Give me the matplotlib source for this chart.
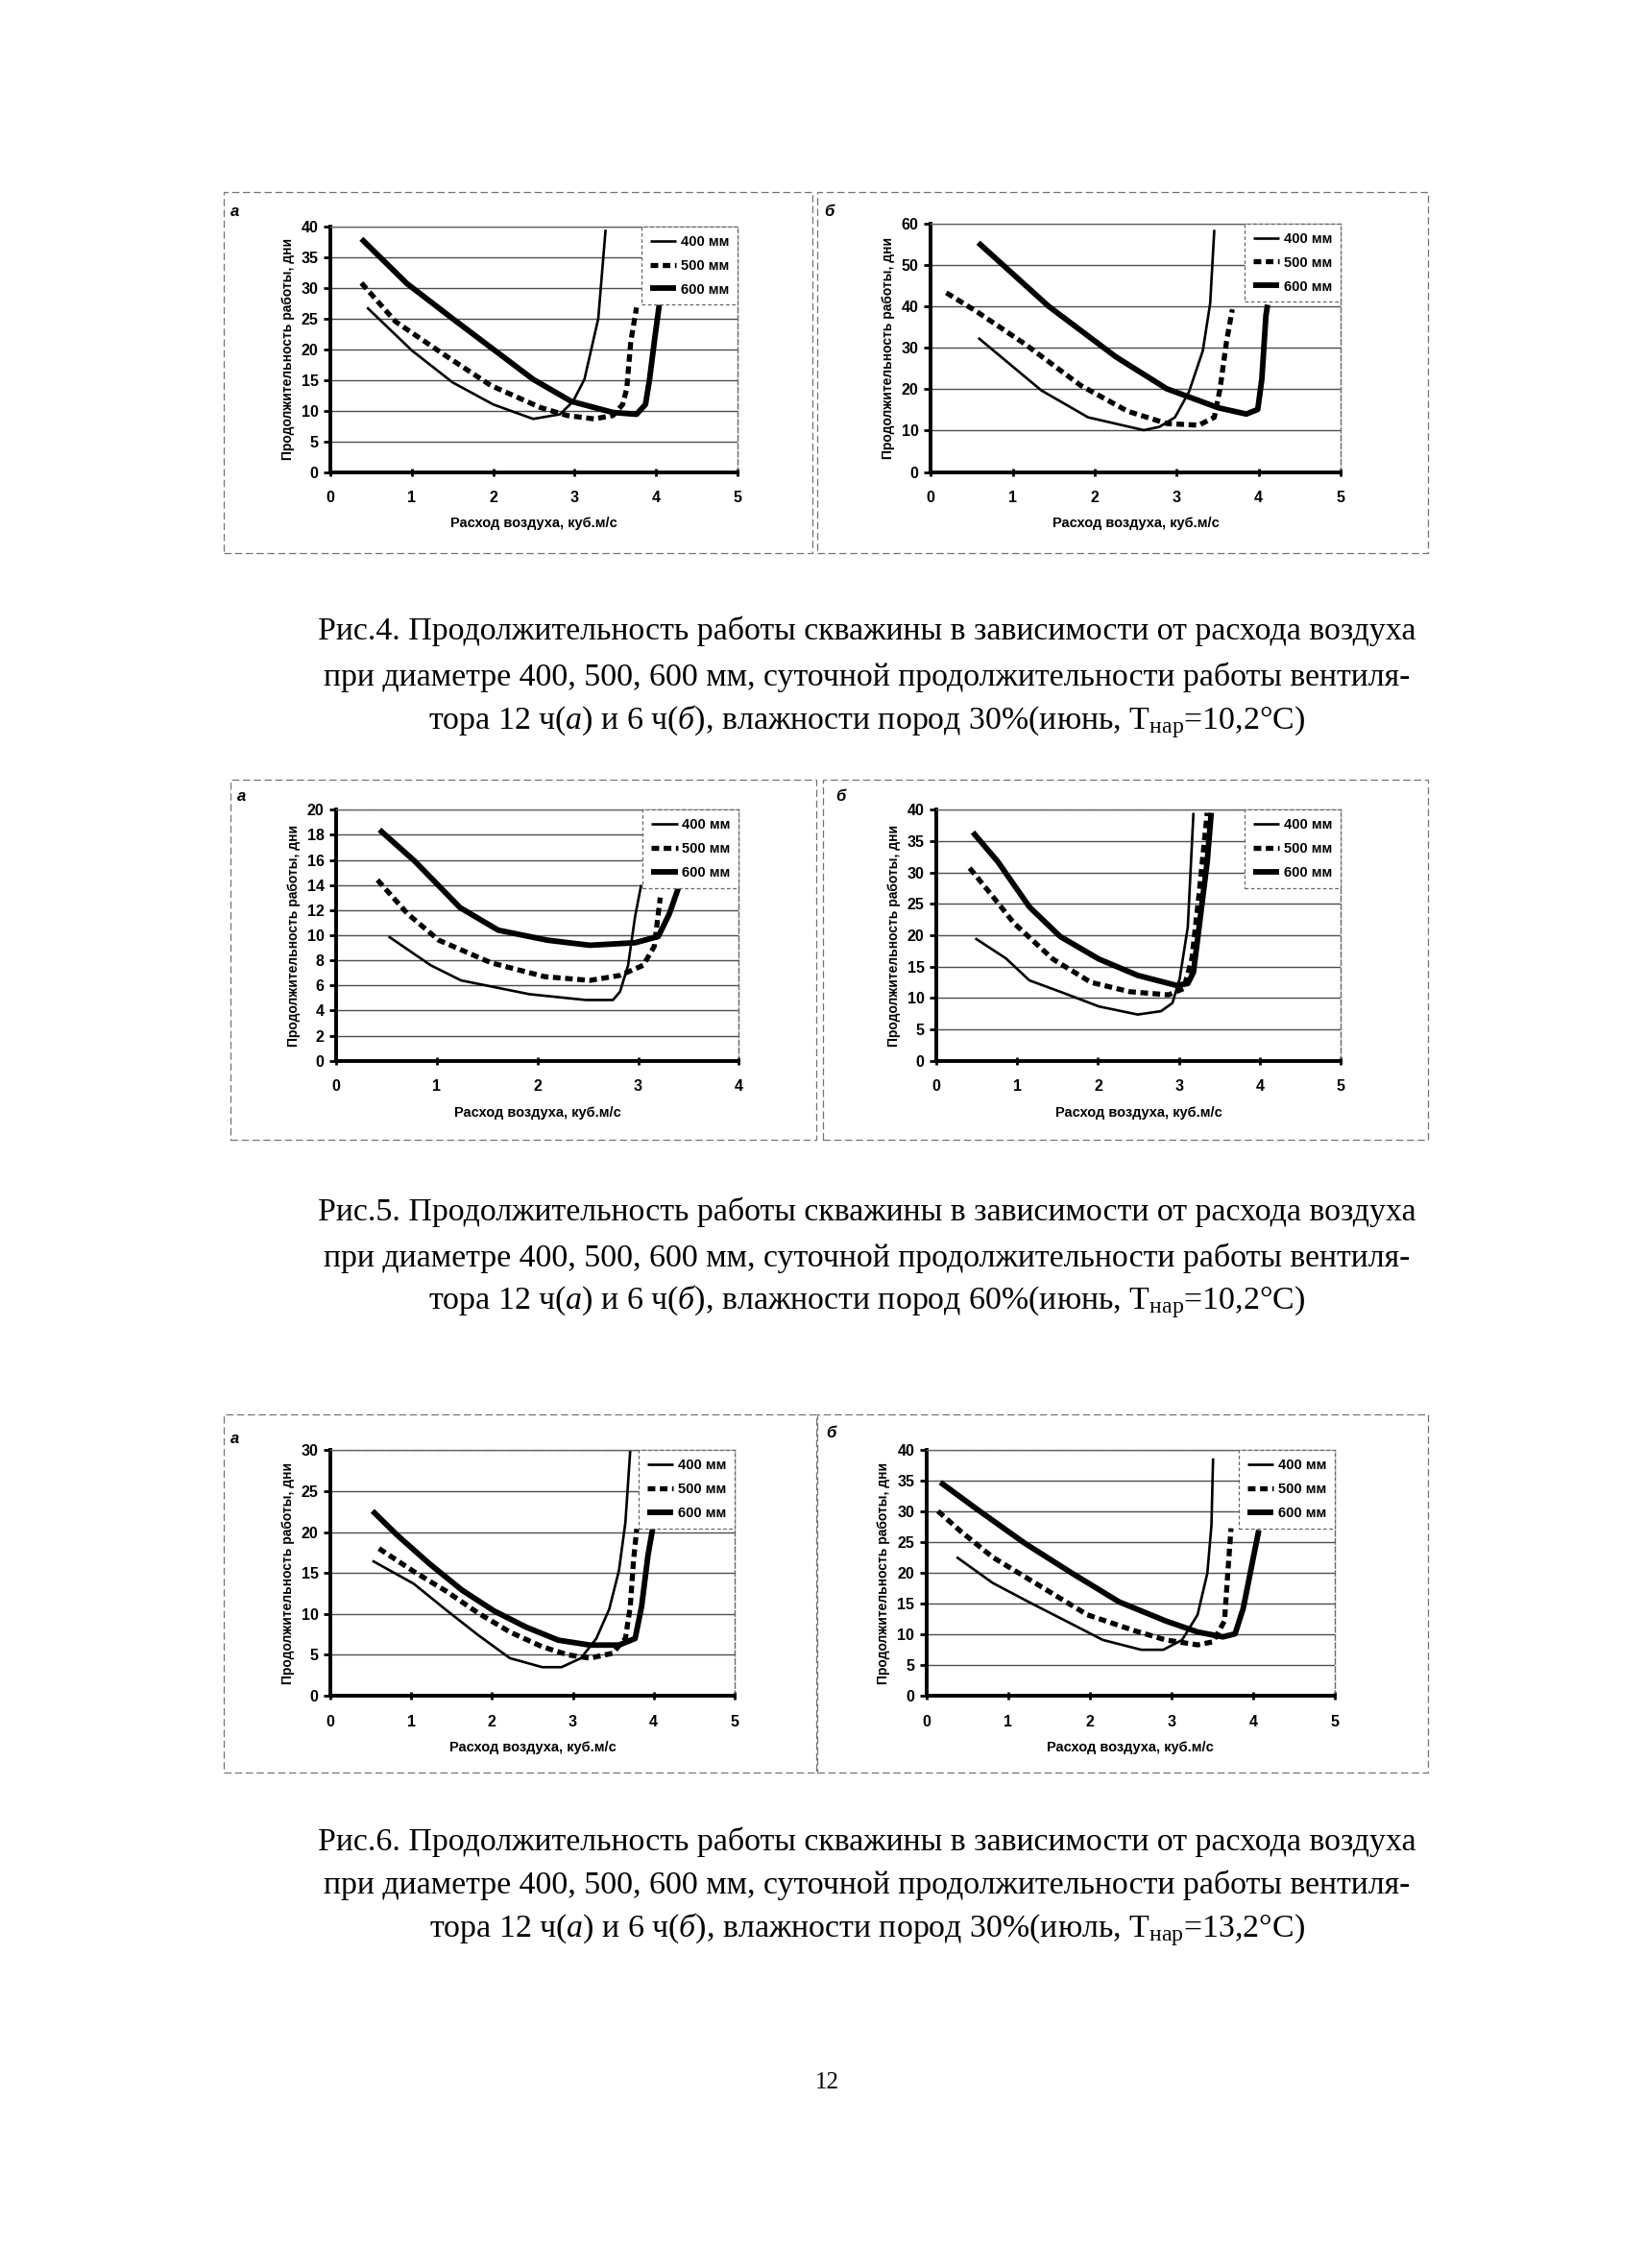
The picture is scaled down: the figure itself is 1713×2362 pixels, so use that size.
import matplotlib
matplotlib.use("Agg")
import matplotlib.pyplot as plt
from matplotlib.patches import Rectangle

plt.rcParams['font.family'] = ['Liberation Sans', 'DejaVu Sans']
plt.rcParams['mathtext.fontset'] = 'custom'
plt.rcParams['mathtext.rm'] = 'Liberation Serif'
plt.rcParams['mathtext.it'] = 'Liberation Serif:italic'

# ---- data read from the scanned page ----
# Рис.4 а
p1_x400 = [0.45, 1.0, 1.5, 2.0, 2.49, 2.82, 2.98, 3.12, 3.29, 3.38]
p1_y400 = [26.8, 19.8, 14.6, 11.0, 8.65, 9.4, 11.5, 15.1, 25.0, 39.5]
p1_x500 = [0.38, 0.8, 1.41, 1.97, 2.58, 2.91, 3.24, 3.47, 3.59, 3.64, 3.69, 3.76]
p1_y500 = [30.8, 24.5, 19.0, 14.1, 10.5, 9.2, 8.65, 9.2, 11.0, 13.6, 21.3, 26.8]
p1_x600 = [0.38, 0.94, 1.5, 1.97, 2.49, 2.96, 3.47, 3.76, 3.87, 3.92, 3.99, 4.04]
p1_y600 = [38.0, 30.7, 25.0, 20.3, 15.1, 11.5, 9.7, 9.4, 11.0, 15.1, 22.4, 27.3]
# Рис.4 б
p2_x400 = [0.58, 1.35, 1.92, 2.6, 2.79, 2.98, 3.15, 3.32, 3.41, 3.46]
p2_y400 = [32.4, 19.7, 13.2, 10.1, 10.9, 13.2, 19.3, 29.3, 40.8, 58.5]
p2_x500 = [0.19, 0.58, 1.15, 1.83, 2.4, 2.88, 3.27, 3.46, 3.53, 3.61, 3.68]
p2_y500 = [43.3, 38.5, 30.9, 20.9, 14.7, 11.7, 11.3, 13.2, 20.1, 31.6, 39.3]
p2_x600 = [0.58, 1.44, 2.26, 2.88, 3.51, 3.85, 3.99, 4.04, 4.09, 4.11]
p2_y600 = [55.4, 40.0, 27.8, 20.1, 15.5, 14.0, 15.1, 22.4, 37.8, 40.4]
# Рис.5 а
p3_x400 = [0.52, 0.94, 1.24, 1.92, 2.48, 2.75, 2.82, 2.9, 2.97, 3.03]
p3_y400 = [9.9, 7.6, 6.4, 5.3, 4.84, 4.84, 5.5, 7.6, 11.5, 14.0]
p3_x500 = [0.41, 0.71, 1.02, 1.54, 2.07, 2.52, 2.82, 3.05, 3.16, 3.22]
p3_y500 = [14.4, 11.7, 9.6, 7.8, 6.7, 6.4, 6.8, 7.6, 9.1, 13.0]
p3_x600 = [0.43, 0.78, 1.23, 1.61, 2.1, 2.52, 2.97, 3.2, 3.31, 3.41]
p3_y600 = [18.4, 15.9, 12.2, 10.4, 9.6, 9.2, 9.4, 9.9, 11.7, 14.0]
# Рис.5 б
p4_x400 = [0.48, 0.86, 1.15, 1.53, 2.01, 2.49, 2.78, 2.92, 3.01, 3.11, 3.18]
p4_y400 = [19.5, 16.3, 12.8, 11.0, 8.65, 7.36, 7.9, 9.2, 13.1, 21.3, 39.5]
p4_x500 = [0.41, 0.67, 0.96, 1.44, 1.91, 2.39, 2.87, 3.06, 3.16, 3.25, 3.35]
p4_y500 = [30.7, 26.6, 21.9, 16.2, 12.5, 11.0, 10.5, 11.5, 16.2, 26.6, 39.5]
p4_x600 = [0.45, 0.76, 1.15, 1.53, 2.01, 2.49, 2.97, 3.11, 3.18, 3.25, 3.35, 3.4]
p4_y600 = [36.4, 31.7, 24.5, 19.8, 16.2, 13.6, 12.0, 12.3, 14.1, 21.3, 31.7, 39.5]
# Рис.6 а
p5_x400 = [0.52, 1.03, 1.43, 1.83, 2.22, 2.62, 2.86, 3.1, 3.29, 3.45, 3.57, 3.65, 3.71]
p5_y400 = [16.5, 13.7, 10.5, 7.4, 4.6, 3.5, 3.5, 4.6, 7.0, 10.6, 15.3, 21.2, 30.0]
p5_x500 = [0.6, 1.03, 1.43, 1.83, 2.22, 2.62, 2.94, 3.21, 3.49, 3.65, 3.71, 3.75, 3.79]
p5_y500 = [18.0, 15.2, 12.8, 10.1, 7.8, 6.0, 5.0, 4.6, 5.2, 7.0, 10.9, 16.5, 20.4]
p5_x600 = [0.52, 0.83, 1.23, 1.63, 2.02, 2.42, 2.82, 3.21, 3.57, 3.77, 3.85, 3.93, 3.99]
p5_y600 = [22.6, 19.6, 16.1, 12.9, 10.4, 8.4, 6.8, 6.2, 6.2, 7.0, 10.9, 17.2, 20.6]
# Рис.6 б
p6_x400 = [0.37, 0.81, 1.28, 1.78, 2.16, 2.63, 2.9, 3.13, 3.32, 3.44, 3.49, 3.51]
p6_y400 = [22.6, 18.4, 15.1, 11.7, 9.1, 7.5, 7.5, 9.1, 13.2, 20.0, 27.8, 38.7]
p6_x500 = [0.14, 0.42, 0.81, 1.39, 1.97, 2.55, 2.93, 3.32, 3.51, 3.65, 3.69, 3.73]
p6_y500 = [30.1, 26.8, 22.6, 17.9, 13.2, 10.6, 9.1, 8.3, 8.8, 12.2, 20.0, 27.3]
p6_x600 = [0.17, 0.62, 1.2, 1.78, 2.36, 2.93, 3.32, 3.63, 3.78, 3.88, 3.98, 4.07]
p6_y600 = [34.8, 30.4, 24.9, 20.0, 15.3, 12.2, 10.4, 9.6, 10.1, 14.3, 21.0, 27.0]

labels = ["400 мм", "500 мм", "600 мм"]
xlabel = "Расход воздуха, куб.м/с"
ylabel = "Продолжительность работы, дни"

captions = [
    ("Рис.4. Продолжительность работы скважины в зависимости от расхода воздуха",
     "при диаметре 400, 500, 600 мм, суточной продолжительности работы вентиля-",
     r"тора 12 ч($\mathit{а}$) и 6 ч($\mathit{б}$), влажности пород 30%(июнь, Т$_{\mathrm{нар}}$=10,2°С)"),
    ("Рис.5. Продолжительность работы скважины в зависимости от расхода воздуха",
     "при диаметре 400, 500, 600 мм, суточной продолжительности работы вентиля-",
     r"тора 12 ч($\mathit{а}$) и 6 ч($\mathit{б}$), влажности пород 60%(июнь, Т$_{\mathrm{нар}}$=10,2°С)"),
    ("Рис.6. Продолжительность работы скважины в зависимости от расхода воздуха",
     "при диаметре 400, 500, 600 мм, суточной продолжительности работы вентиля-",
     r"тора 12 ч($\mathit{а}$) и 6 ч($\mathit{б}$), влажности пород 30%(июль, Т$_{\mathrm{нар}}$=13,2°С)"),
]

fig = plt.figure(figsize=(17.13, 23.62), dpi=100)

panels = [
    # rect, box, tag, tagpos, xmax, ymax, ystep, data
    ([0.2009, 0.7919, 0.2474, 0.1082], [0.136, 0.7563, 0.358, 0.1591], "а", (0.143, 0.9065), 5, 40, 5,
     [(p1_x400, p1_y400), (p1_x500, p1_y500), (p1_x600, p1_y600)]),
    ([0.5658, 0.7919, 0.2491, 0.1095], [0.497, 0.7563, 0.371, 0.1591], "б", (0.504, 0.9065), 5, 60, 10,
     [(p2_x400, p2_y400), (p2_x500, p2_y500), (p2_x600, p2_y600)]),
    ([0.2044, 0.5323, 0.2447, 0.1107], [0.140, 0.4973, 0.356, 0.1591], "а", (0.147, 0.6487), 4, 20, 2,
     [(p3_x400, p3_y400), (p3_x500, p3_y500), (p3_x600, p3_y600)]),
    ([0.5693, 0.5323, 0.2456, 0.1107], [0.500, 0.4973, 0.368, 0.1591], "б", (0.511, 0.649), 5, 40, 5,
     [(p4_x400, p4_y400), (p4_x500, p4_y500), (p4_x600, p4_y600)]),
    ([0.2009, 0.2523, 0.2456, 0.1082], [0.136, 0.2186, 0.360, 0.1578], "а", (0.143, 0.3656), 5, 30, 5,
     [(p5_x400, p5_y400), (p5_x500, p5_y500), (p5_x600, p5_y600)]),
    ([0.5632, 0.2523, 0.2482, 0.1082], [0.497, 0.2186, 0.371, 0.1578], "б", (0.505, 0.368), 5, 40, 5,
     [(p6_x400, p6_y400), (p6_x500, p6_y500), (p6_x600, p6_y600)]),
]

styles = [
    dict(color="black", lw=1.9, ls="-"),
    dict(color="black", lw=3.8, ls=(0, (1.5, 0.9))),
    dict(color="black", lw=4.2, ls="-"),
]

for rect, box, tag, tagpos, xmax, ymax, ystep, data in panels:
    fig.add_artist(Rectangle((box[0], box[1]), box[2], box[3], transform=fig.transFigure,
                             fill=False, ec="0.45", lw=0.9, ls=(0, (6, 3))))
    fig.text(tagpos[0], tagpos[1], tag, fontsize=12, fontweight="bold", style="italic",
             ha="center", va="center")
    ax = fig.add_axes(rect)
    for (xs, ys), st, lab in zip(data, styles, labels):
        ax.plot(xs, ys, label=lab, solid_capstyle="butt", dash_capstyle="butt",
                solid_joinstyle="round", **st)
    ax.set_xlim(0, xmax)
    ax.set_ylim(0, ymax)
    ax.set_xticks(range(0, xmax + 1))
    ax.set_yticks(range(0, ymax + 1, ystep))
    ax.yaxis.grid(True, color="0.3", lw=1.0)
    ax.set_axisbelow(True)
    for s in ["left", "bottom"]:
        ax.spines[s].set_linewidth(2.8)
        ax.spines[s].set_color("black")
    for s in ["top", "right"]:
        ax.spines[s].set_linewidth(1.0)
        ax.spines[s].set_color("0.4")
        ax.spines[s].set_linestyle((0, (4, 2)))
    ax.tick_params(axis="y", direction="out", length=5, width=2, pad=4, labelsize=11.5)
    ax.tick_params(axis="x", direction="inout", length=6, width=2, pad=11, labelsize=11.5)
    for t in ax.get_xticklabels() + ax.get_yticklabels():
        t.set_fontweight("bold")
    ax.set_xlabel(xlabel, fontsize=10.5, fontweight="bold", labelpad=9)
    ax.set_ylabel(ylabel, fontsize=10, fontweight="bold", labelpad=5)
    leg = ax.legend(loc="upper right", bbox_to_anchor=(1.0, 1.0), borderaxespad=0.0,
                    fancybox=False, framealpha=1, edgecolor="0.4", fontsize=10.5,
                    handlelength=1.9, labelspacing=0.75, borderpad=0.6, handletextpad=0.3)
    leg.get_frame().set_linewidth(0.9)
    leg.get_frame().set_linestyle((0, (3, 2)))
    for t in leg.get_texts():
        t.set_fontweight("bold")

cap_y = [(0.7219, 0.7016, 0.6818), (0.4655, 0.4451, 0.4260), (0.1880, 0.1690, 0.1492)]
for lines, ys in zip(captions, cap_y):
    for line, y in zip(lines, ys):
        fig.text(0.527, y, line, fontsize=24.4, family="Liberation Serif",
                 ha="center", va="center")

fig.text(0.503, 0.0818, "12", fontsize=18, family="Liberation Serif", ha="center", va="center")

fig.savefig("out.png", dpi=100, facecolor="white")
